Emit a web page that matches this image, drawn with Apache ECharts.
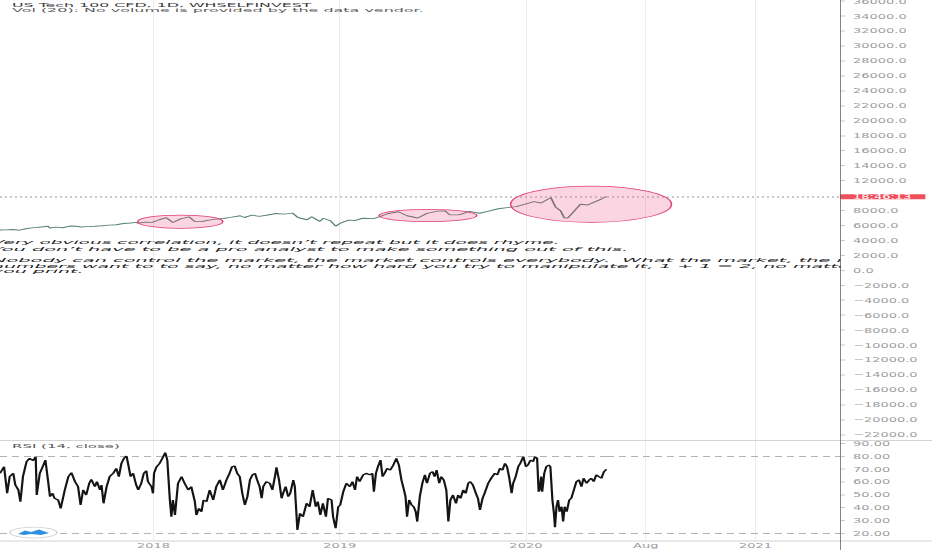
<!DOCTYPE html>
<html><head><meta charset="utf-8">
<script src="https://cdn.jsdelivr.net/npm/echarts@6/dist/echarts.min.js"></script>
<style>
html,body{margin:0;padding:0;width:932px;height:550px;overflow:hidden;background:#fff}
#wrap{width:932px;height:550px;overflow:hidden;position:relative}
#c{width:932px;height:1100px;transform:scaleY(0.5);transform-origin:0 0}
</style></head><body><div id="wrap"><div id="c"></div></div>
<script>
// ---------------- data ----------------
const priceDates = ['2017-03-06','2017-03-17','2017-03-31','2017-04-13','2017-04-28','2017-05-12','2017-05-26','2017-06-08','2017-06-12','2017-06-23','2017-07-07','2017-07-21','2017-08-04','2017-08-11','2017-08-25','2017-09-08','2017-09-22','2017-10-06','2017-10-20','2017-11-03','2017-11-17','2017-11-28','2017-12-01','2017-12-15','2017-12-29','2018-01-12','2018-01-26','2018-02-08','2018-02-23','2018-03-12','2018-03-23','2018-04-06','2018-04-20','2018-05-04','2018-05-18','2018-06-01','2018-06-20','2018-06-28','2018-07-13','2018-07-27','2018-08-10','2018-08-29','2018-09-14','2018-10-01','2018-10-11','2018-10-29','2018-11-07','2018-11-23','2018-11-30','2018-12-14','2018-12-24','2019-01-04','2019-01-18','2019-02-01','2019-02-15','2019-03-08','2019-03-22','2019-04-05','2019-04-26','2019-05-13','2019-06-03','2019-06-21','2019-07-12','2019-07-26','2019-08-05','2019-08-23','2019-09-13','2019-10-02','2019-10-18','2019-11-08','2019-11-29','2019-12-13','2019-12-27','2020-01-17','2020-01-31','2020-02-19','2020-02-28','2020-03-09','2020-03-16','2020-03-23','2020-04-09','2020-04-17','2020-05-01','2020-05-15','2020-05-29','2020-06-05'];
const priceValues = [5380,5400,5436,5350,5583,5690,5788,5880,5650,5760,5680,5908,5880,5780,5835,5880,5940,6030,6080,6250,6320,6400,6300,6420,6396,6750,7022,6380,6860,7130,6500,6520,6700,6830,6920,7060,7280,7050,7370,7200,7350,7590,7500,7630,7050,6750,7150,6530,6950,6600,5900,6340,6700,6650,6950,6900,7200,7550,7820,7280,6980,7600,7900,7940,7400,7400,7860,7620,7880,8220,8400,8500,8780,9170,8990,9720,8460,7950,7020,6960,8230,8830,8720,9150,9550,9824];

const rsiDates = [
'2017-03-06','2017-03-14','2017-03-20','2017-03-25','2017-04-01','2017-04-05','2017-04-11','2017-04-15','2017-04-20','2017-04-27',
'2017-05-03','2017-05-10','2017-05-15','2017-05-17','2017-05-23','2017-05-30','2017-06-03','2017-06-08','2017-06-12','2017-06-17',
'2017-06-21','2017-06-28','2017-07-03','2017-07-11','2017-07-18','2017-07-24','2017-07-31','2017-08-06','2017-08-11','2017-08-16',
'2017-08-22','2017-08-28','2017-09-01','2017-09-08','2017-09-12','2017-09-18','2017-09-21','2017-09-25','2017-10-01','2017-10-07',
'2017-10-14','2017-10-20','2017-10-25','2017-10-30','2017-11-04','2017-11-09','2017-11-12','2017-11-17','2017-11-22','2017-11-28',
'2017-12-02','2017-12-08','2017-12-13','2017-12-18','2017-12-21','2017-12-28','2017-12-31','2018-01-02','2018-01-07','2018-01-13',
'2018-01-20','2018-01-24','2018-01-28','2018-02-02','2018-02-05','2018-02-08','2018-02-12','2018-02-18','2018-02-25','2018-03-03',
'2018-03-10','2018-03-16','2018-03-23','2018-03-26','2018-03-31','2018-04-05','2018-04-09','2018-04-15','2018-04-21','2018-04-28',
'2018-05-04','2018-05-11','2018-05-17','2018-05-24','2018-05-30','2018-06-04','2018-06-09','2018-06-14','2018-06-19','2018-06-24',
'2018-06-29','2018-07-04','2018-07-09','2018-07-14','2018-07-19','2018-07-23','2018-07-28','2018-08-01','2018-08-04','2018-08-10',
'2018-08-17','2018-08-22','2018-08-27','2018-08-30','2018-09-04','2018-09-09','2018-09-12','2018-09-17','2018-09-22','2018-09-26',
'2018-10-02','2018-10-05','2018-10-10','2018-10-15','2018-10-21','2018-10-28','2018-11-03','2018-11-09','2018-11-15','2018-11-19',
'2018-11-24','2018-11-29','2018-12-05','2018-12-09','2018-12-16','2018-12-19','2018-12-24','2018-12-29','2019-01-02','2019-01-08',
'2019-01-14','2019-01-21','2019-01-26','2019-01-31','2019-02-04','2019-02-09','2019-02-16','2019-02-22','2019-03-01','2019-03-06',
'2019-03-09','2019-03-13','2019-03-17','2019-03-22','2019-03-26','2019-03-30','2019-04-04','2019-04-10','2019-04-16','2019-04-22',
'2019-04-27','2019-05-02','2019-05-07','2019-05-10','2019-05-13','2019-05-17','2019-05-22','2019-05-26','2019-05-30','2019-06-02',
'2019-06-07','2019-06-12','2019-06-17','2019-06-21','2019-06-27','2019-07-02','2019-07-06','2019-07-10','2019-07-15','2019-07-19',
'2019-07-24','2019-07-29','2019-08-02','2019-08-06','2019-08-11','2019-08-17','2019-08-21','2019-08-26','2019-08-31','2019-09-05',
'2019-09-10','2019-09-14','2019-09-19','2019-09-25','2019-09-29','2019-10-03','2019-10-08','2019-10-12','2019-10-19','2019-10-25',
'2019-11-01','2019-11-06','2019-11-11','2019-11-16','2019-11-21','2019-11-25','2019-11-29','2019-12-04','2019-12-07','2019-12-12',
'2019-12-17','2019-12-21','2019-12-27','2020-01-01','2020-01-05','2020-01-10','2020-01-15','2020-01-19','2020-01-23','2020-01-26',
'2020-01-28','2020-01-31','2020-02-02','2020-02-06','2020-02-10','2020-02-15','2020-02-18','2020-02-22','2020-02-25','2020-02-27',
'2020-03-01','2020-03-04','2020-03-07','2020-03-11','2020-03-14','2020-03-17','2020-03-21','2020-03-26','2020-03-30','2020-04-04',
'2020-04-09','2020-04-14','2020-04-19','2020-04-23','2020-04-29','2020-05-04','2020-05-08','2020-05-13','2020-05-18','2020-05-23',
'2020-05-28','2020-06-02','2020-06-07'];
const rsiValues = [
66.7,71.8,51.1,64.1,66.7,57.6,53.7,44.6,64.1,75.7,
78.3,76.5,79.6,49.8,66.7,73.1,77.0,61.5,48.5,51.1,
47.2,45.9,39.4,53.7,64.1,67.2,60.2,56.3,42.0,53.7,
49.8,58.9,62.0,56.3,60.2,53.7,57.6,43.3,56.3,64.1,
66.7,70.5,64.1,74.4,78.3,80.1,74.4,64.1,66.7,57.6,
53.7,58.9,66.7,68.7,60.2,56.3,51.1,66.7,71.8,74.4,
79.6,82.7,77.0,45.9,32.9,45.9,34.2,58.9,64.1,58.9,
53.7,56.3,44.6,34.2,39.4,36.8,45.9,44.6,53.7,45.9,
56.3,61.5,53.7,61.5,66.7,71.8,72.4,66.7,64.1,51.1,
42.0,48.5,61.5,65.4,66.7,61.5,56.3,47.2,56.3,60.2,
58.9,53.7,64.1,71.3,61.5,47.2,51.1,56.3,48.5,51.1,
61.5,56.3,22.6,35.5,32.9,43.3,40.7,53.7,40.7,44.6,
34.2,43.3,32.9,47.2,45.9,32.9,23.9,40.7,42.0,52.4,
58.9,56.3,60.2,53.7,64.1,60.2,65.4,66.7,65.4,66.7,
52.4,66.7,71.8,77.0,64.1,66.7,70.5,69.2,73.1,78.3,
73.1,61.5,53.7,48.5,32.9,45.9,42.0,40.7,36.8,29.1,
48.5,58.9,65.4,58.9,66.7,67.9,64.1,69.2,58.9,64.1,
61.5,53.7,29.1,45.9,49.8,43.3,49.8,47.2,53.7,51.1,
58.9,60.2,57.6,51.1,47.2,38.1,47.2,51.1,58.9,62.8,
66.7,65.4,70.5,69.2,74.4,71.8,64.1,51.1,58.9,64.1,
71.8,74.4,79.6,71.8,73.1,77.0,75.7,79.6,78.3,52.4,
53.7,64.1,52.4,66.7,71.8,73.1,71.8,45.9,35.5,24.7,
40.7,45.9,36.8,40.7,29.1,40.7,36.8,45.9,47.2,53.7,
60.2,61.5,56.3,62.8,58.9,61.5,62.8,60.2,65.4,64.1,
62.8,67.9,69.8];

// price axis ticks (10000 sits behind the last-price tag, so it is not listed)
const priceTicks = [-22000,-20000,-18000,-16000,-14000,-12000,-10000,-8000,-6000,-4000,-2000,0,2000,4000,6000,8000,12000,14000,16000,18000,20000,22000,24000,26000,28000,30000,32000,34000,36000];
const rsiTicks = [20,30,40,50,60,70,80,90];
const rsiBands = [80,20];
const xTickDates = ['2018-01-01','2019-01-01','2020-01-01','2020-08-01','2021-01-01'];
const xTickLabels = ['2018','2019','2020','Aug','2021'];

const titleText = 'US Tech 100 CFD, 1D, WHSELFINVEST';
const volText = 'Vol (20): No volume is provided by the data vendor.';
const rsiTitle = 'RSI (14, close)';
const clockText = '18:46:13';
const notes = [
  'Very obvious correlation, it doesn\u2019t repeat but it does rhyme.',
  'You don\u2019t have to be a pro analyst to make something out of this.',
  'Nobody can control the market, the market controls everybody.  What the market, the n',
  'numbers want to to say, no matter how hard you try to manipulate it, 1 + 1 = 2, no matter',
  'you print.'
];
// ellipse drawings: date range and price range
const ellipses = [
  {from:'2017-12-01', to:'2018-05-17', low:5604, high:7383},
  {from:'2019-03-19', to:'2019-09-27', low:6487, high:8145},
  {from:'2019-12-02', to:'2020-09-06', low:6406, high:11261}
];

// ---------------- layout ----------------
const HIST_START = '2017-03-06', SPLIT = '2020-06-08', FUTURE_END = '2021-04-29';
const PMIN = -22709, PMAX = 36140, RMIN = 14.0, RMAX = 91.8;
const FONT = 'DejaVu Sans';

function T(s){ const p = s.split('-'); return new Date(+p[0], +p[1]-1, +p[2]).getTime(); }
const splitT = T(SPLIT);
const histTicks = xTickDates.filter(d => T(d) <= splitT);
const futTicks = xTickDates.filter(d => T(d) > splitT);
function fmtX(v){
  for (let i = 0; i < xTickDates.length; i++) if (Math.abs(T(xTickDates[i]) - v) < 43200000) return xTickLabels[i];
  return '';
}
function fmtP(v){ return (v < 0 ? '\u2212' : '') + Math.abs(v).toFixed(1); }

const lastPrice = priceValues[priceValues.length - 1];
const vGrid = d => ({xAxis: T(d), lineStyle:{color:'#e6e6e6', width:1, type:'solid'}});
const band = v => ({yAxis: v, lineStyle:{color:'#b2b2b2', width:2, type:[7,5]}});
const lastLine = {yAxis:lastPrice, lineStyle:{color:'#9a9a9a', width:1.6, type:[2,3]}};
const mlBase = {silent:true, symbol:'none', z:1, animation:false, label:{show:false}, emphasis:{disabled:true}};

const axisLabelBase = {fontFamily:FONT, fontSize:13, color:'#9c9c9c'};
const hiddenX = (g, a, b) => ({type:'value', gridIndex:g, min:T(a), max:T(b), show:false, splitLine:{show:false}});
const labX = (g, a, b, ticks) => ({type:'value', gridIndex:g, min:T(a), max:T(b),
  axisLine:{show:false}, splitLine:{show:false},
  axisTick:{show:false, customValues: ticks.map(T)},
  axisLabel:Object.assign({}, axisLabelBase, {margin:3, customValues: ticks.map(T), formatter: fmtX})});

const chart = echarts.init(document.getElementById('c'), null, {renderer:'svg', width:932, height:1100});

const option = {
  animation:false,
  backgroundColor:'#fff',
  textStyle:{fontFamily:FONT},
  grid:[
    {left:0, top:0, width:607, height:880, containLabel:false, outerBoundsMode:'none'},
    {left:607, top:0, width:233, height:880, containLabel:false, outerBoundsMode:'none'},
    {left:0, top:882, width:607, height:200, containLabel:false, outerBoundsMode:'none'},
    {left:607, top:882, width:233, height:200, containLabel:false, outerBoundsMode:'none'}
  ],
  xAxis:[
    hiddenX(0, HIST_START, SPLIT),
    hiddenX(1, SPLIT, FUTURE_END),
    labX(2, HIST_START, SPLIT, histTicks),
    labX(3, SPLIT, FUTURE_END, futTicks)
  ],
  yAxis:[
    {type:'value', gridIndex:0, min:PMIN, max:PMAX, show:false, splitLine:{show:false}},
    {type:'value', gridIndex:1, min:PMIN, max:PMAX, position:'right', z:10,
      axisLine:{show:false}, splitLine:{show:false},
      axisTick:{show:true, length:5, customValues:priceTicks, lineStyle:{color:'#cacaca', width:2}},
      axisLabel:Object.assign({}, axisLabelBase, {margin:13, customValues:priceTicks, formatter:fmtP})},
    {type:'value', gridIndex:2, min:RMIN, max:RMAX, show:false, splitLine:{show:false}},
    {type:'value', gridIndex:3, min:RMIN, max:RMAX, position:'right', z:10,
      axisLine:{show:false}, splitLine:{show:false},
      axisTick:{show:true, length:5, customValues:rsiTicks, lineStyle:{color:'#cacaca', width:2}},
      axisLabel:Object.assign({}, axisLabelBase, {margin:13, customValues:rsiTicks, formatter:v => v.toFixed(2)})}
  ],
  series:[
    {type:'line', name:'US Tech 100', xAxisIndex:0, yAxisIndex:0, z:3, symbol:'none', showSymbol:false,
      data: priceDates.map((d,i) => [T(d), priceValues[i]]),
      lineStyle:{color:'#587f78', width:1.8},
      markLine:Object.assign({}, mlBase, {data: histTicks.map(vGrid).concat([lastLine])})},
    {type:'line', name:'future', xAxisIndex:1, yAxisIndex:1, data:[], symbol:'none',
      markLine:Object.assign({}, mlBase, {data: futTicks.map(vGrid).concat([
        Object.assign({}, lastLine, {label:{show:true, position:'end', distance:0, formatter:clockText, color:'#fff',
          backgroundColor:'#f0505c', fontFamily:FONT, fontSize:13, lineHeight:10, padding:[0,14,0,13]}})])})},
    {type:'line', name:'RSI', xAxisIndex:2, yAxisIndex:2, z:3, symbol:'none', showSymbol:false,
      data: rsiDates.map((d,i) => [T(d), rsiValues[i]]),
      lineStyle:{color:'#141414', width:2.2},
      markLine:Object.assign({}, mlBase, {data: histTicks.map(vGrid).concat(rsiBands.map(band))})},
    {type:'line', name:'RSI future', xAxisIndex:3, yAxisIndex:3, data:[], symbol:'none',
      markLine:Object.assign({}, mlBase, {data: futTicks.map(vGrid).concat(rsiBands.map(band))})}
  ]
};
chart.setOption(option);

function toPx(d, v){
  const t = T(d);
  return chart.convertToPixel({gridIndex: t <= splitT ? 0 : 1}, [t, v]);
}
function txt(id, str, x, y, size, sx, sy, color, italic){
  return {type:'text', id:id, x:x, y:y, scaleX:sx, scaleY:sy, z:5, silent:true,
    style:{text:str, x:0, y:0, fill:color, fontSize:size, fontFamily:FONT, fontStyle: italic ? 'italic' : 'normal',
      align:'left', verticalAlign:'middle', textAlign:'left', textVerticalAlign:'middle'}};
}
const els = [];
ellipses.forEach((e, i) => {
  const a = toPx(e.from, e.high), b = toPx(e.to, e.low);
  els.push({type:'ellipse', id:'ell'+i, z:4, silent:true,
    shape:{cx:(a[0]+b[0])/2, cy:(a[1]+b[1])/2, rx:Math.abs(b[0]-a[0])/2, ry:Math.abs(b[1]-a[1])/2},
    style:{fill:'rgba(236,64,122,0.22)', stroke:'#e0406e', lineWidth:1.5}});
});
const noteY = [483.4, 497, 520, 531, 541.2];
const noteSX = [1.03, 1.075, 1.075, 1.055, 1.055];
notes.forEach((s, i) => els.push(txt('note'+i, s, -8, noteY[i], 18, noteSX[i], 0.66, '#1c1c1c', true)));
els.push({type:'rect', id:'cover', z:6, silent:true, shape:{x:841, y:505, width:91, height:45}, style:{fill:'#fff'}});
els.push(txt('title', titleText, 12, 10.6, 14, 1.13, 0.78, '#3a3a3a', false));
els.push(txt('vol', volText, 12, 21, 14, 1.14, 0.78, '#5c5c5c', false));
els.push(txt('rsiTitle', rsiTitle, 12, 892.6, 14, 1.07, 0.78, '#555', false));
els.push({type:'line', id:'sep1', z:8, silent:true, shape:{x1:0, y1:881, x2:932, y2:881}, style:{stroke:'#d4d4d4', lineWidth:2}});
els.push({type:'line', id:'sep2', z:8, silent:true, shape:{x1:0, y1:1082, x2:932, y2:1082}, style:{stroke:'#d4d4d4', lineWidth:2}});
els.push({type:'line', id:'axisLine', z:12, silent:true, shape:{x1:840.5, y1:0, x2:840.5, y2:1100}, style:{stroke:'#5a5a5a', lineWidth:1}});
els.push({type:'ellipse', id:'logoRing', z:8, silent:true, shape:{cx:33.5, cy:1065, rx:23.5, ry:11}, style:{fill:'#fff', stroke:'#d0d0d0', lineWidth:1.5}});
els.push({type:'polygon', id:'logoWave', z:9, silent:true,
  shape:{points:[[18,1068],[25,1061],[31,1064],[39,1059],[49,1066],[41,1070],[31,1068],[24,1070]]},
  style:{fill:'#2f8fe0'}});
chart.setOption({graphic:{elements:els}});
</script>
</body></html>
